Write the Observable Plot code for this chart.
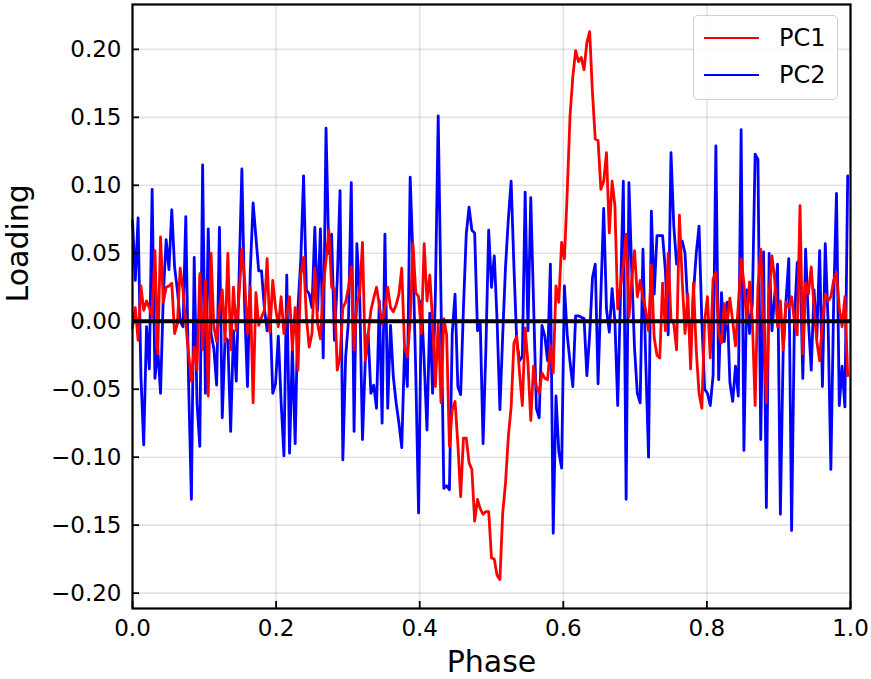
<!DOCTYPE html>
<html>
<head>
<meta charset="utf-8">
<script src="https://cdn.jsdelivr.net/npm/d3@7"></script>
<script src="https://cdn.jsdelivr.net/npm/@observablehq/plot@0.6"></script>
<style>
  html, body { margin: 0; padding: 0; background: #fff; }
  #wrap { position: relative; width: 871px; height: 679px; font-family: "DejaVu Sans", sans-serif; }
  #legend { position: absolute; left: 693px; top: 15px; width: 143px; height: 83px;
    border: 1.5px solid #cfcfcf; border-radius: 5px; background: rgba(255,255,255,0.85); }
  .sw { position: absolute; left: 10px; width: 55px; height: 2px; }
  .lt { position: absolute; left: 85px; font-size: 24px; line-height: 24px; color: #000; }
</style>
</head>
<body>
<div id="wrap"></div>
<script>
// PC1 loadings (256 phase bins)
const pc1 = [
  -0.005, 0.01, -0.014, 0.026, 0.008, 0.015, 0.01, 0.003, 0.052, -0.024, 0.062, 0.014, 0.025, 0.026, 0.028, -0.009,
  -0.002, 0.039, 0.023, -0.002, -0.024, -0.044, -0.019, -0.036, 0.035, -0.021, 0.03, -0.055, 0.05, -0.004, -0.015, 0.01,
  0.023, -0.015, 0.05, -0.021, 0.025, -0.007, 0.02, 0.053, 0.03, -0.009, 0.025, -0.06, 0.021, -0.003, 0.003, 0.008,
  0.046, -0.008, 0.03, 0.01, -0.004, 0.018, -0.009, 0.006, 0.018, -0.021, 0.01, -0.036, 0.034, 0.047, 0.003, -0.019,
  -0.009, 0.039, -0.002, -0.013, 0.025, 0.045, 0.067, 0.025, 0.024, -0.036, -0.026, 0.01, 0.014, 0.025, 0.04, -0.021,
  0.013, 0.02, 0.058, -0.029, -0.01, 0.008, 0.017, 0.025, 0.012, -0.002, 0.01, 0.025, 0.01, 0.007, 0.012, 0.02,
  0.039, -0.019, -0.026, 0.0, 0.057, 0.021, 0.018, -0.009, 0.057, 0.015, 0.034, 0.0, -0.048, 0.0, -0.06, 0.002,
  -0.01, -0.092, -0.065, -0.059, -0.09, -0.129, -0.086, -0.086, -0.104, -0.109, -0.147, -0.131, -0.138, -0.142, -0.14, -0.14,
  -0.174, -0.175, -0.187, -0.19, -0.141, -0.119, -0.085, -0.063, -0.016, -0.011, -0.038, -0.062, -0.005, -0.031, -0.073, -0.033,
  -0.048, -0.053, -0.038, -0.042, -0.043, -0.018, -0.038, 0.026, 0.014, 0.058, 0.046, 0.095, 0.151, 0.18, 0.199, 0.191,
  0.194, 0.185, 0.205, 0.213, 0.168, 0.134, 0.133, 0.097, 0.103, 0.124, 0.065, 0.103, 0.085, 0.009, 0.026, 0.041,
  0.064, 0.003, 0.03, 0.052, 0.018, 0.03, 0.017, 0.008, -0.007, 0.041, -0.012, -0.025, -0.027, 0.028, -0.007, 0.05,
  0.001, -0.002, -0.021, 0.078, 0.03, -0.009, 0.02, -0.035, 0.028, -0.021, -0.053, -0.064, 0.0, 0.018, -0.027, 0.031,
  0.036, -0.009, -0.016, 0.013, -0.002, 0.017, 0.0, -0.018, 0.012, 0.046, 0.028, 0.0, 0.029, 0.001, -0.062, 0.025,
  0.053, 0.001, -0.06, 0.02, 0.048, 0.03, -0.004, 0.015, -0.021, 0.014, 0.01, 0.018, 0.0, -0.01, 0.085, -0.024,
  0.028, 0.02, 0.04, 0.01, -0.015, -0.029, 0.0, 0.02, 0.015, 0.018, 0.03, 0.036, 0.01, -0.004, 0.018, -0.04
];
// PC2 loadings (256 phase bins)
const pc2 = [
  0.074, 0.03, 0.076, -0.04, -0.091, -0.004, -0.035, 0.097, -0.042, -0.02, -0.053, 0.02, 0.06, 0.038, 0.082, 0.04,
  0.023, 0.0, -0.004, 0.077, -0.045, -0.131, 0.047, -0.06, -0.092, 0.115, -0.053, 0.068, -0.009, -0.02, -0.047, 0.069,
  -0.071, -0.012, -0.014, -0.081, -0.007, -0.044, 0.033, 0.112, 0.01, -0.048, 0.037, 0.087, 0.062, 0.037, 0.037, 0.01,
  -0.007, 0.01, -0.053, -0.046, -0.011, -0.06, -0.099, 0.034, -0.097, -0.019, -0.09, 0.01, 0.045, 0.107, 0.023, 0.02,
  0.01, 0.069, 0.008, 0.068, -0.027, 0.142, 0.05, 0.064, -0.014, 0.03, 0.096, -0.102, -0.026, 0.0, 0.102, -0.081,
  0.057, 0.02, -0.087, -0.029, -0.009, -0.053, -0.047, -0.064, 0.015, -0.075, 0.064, -0.064, -0.003, -0.041, -0.06, -0.075,
  -0.093, -0.02, -0.048, 0.106, 0.047, -0.038, -0.141, 0.015, -0.03, -0.08, 0.006, -0.053, 0.02, 0.151, 0.015, -0.123,
  -0.121, -0.124, -0.009, 0.02, -0.048, -0.054, 0.01, 0.064, 0.084, 0.067, 0.065, -0.007, -0.002, -0.09, -0.02, 0.067,
  0.025, 0.048, 0.0, -0.065, -0.01, 0.04, 0.075, 0.103, 0.04, -0.015, -0.029, -0.026, 0.095, -0.007, 0.091, 0.013,
  -0.064, -0.071, -0.003, -0.011, -0.029, 0.042, -0.156, -0.055, -0.096, -0.108, 0.026, -0.01, -0.03, -0.048, 0.004, 0.004,
  0.003, 0.002, -0.04, -0.01, 0.032, 0.042, -0.046, 0.02, 0.083, 0.009, -0.008, 0.024, 0.0, -0.062, 0.02, 0.103,
  -0.131, 0.102, 0.037, -0.02, -0.053, -0.06, 0.053, -0.03, -0.1, 0.081, 0.02, 0.063, 0.063, 0.063, 0.037, -0.01,
  0.124, 0.07, 0.042, 0.053, 0.059, 0.05, 0.01, -0.021, 0.02, 0.05, 0.07, 0.0, -0.05, -0.053, -0.062, -0.04,
  0.129, -0.043, 0.021, -0.015, 0.014, -0.045, -0.059, -0.033, -0.055, 0.141, -0.095, 0.023, -0.009, 0.013, 0.123, 0.119,
  -0.087, 0.051, -0.137, 0.05, -0.007, 0.02, 0.042, -0.142, -0.021, 0.015, 0.046, -0.154, 0.0, 0.043, 0.045, -0.042,
  0.053, 0.0, -0.036, 0.023, -0.012, 0.052, -0.048, 0.057, 0.0, -0.109, 0.015, 0.094, -0.062, -0.033, -0.063, 0.107
];
const seriesNames = ["PC1", "PC2"];
const seriesColors = ["red", "blue"];
const xTicks = [0, 0.2, 0.4, 0.6, 0.8, 1.0];
const yTicks = [-0.20, -0.15, -0.10, -0.05, 0.00, 0.05, 0.10, 0.15, 0.20];
const xLabel = "Phase";
const yLabel = "Loading";

const N = pc1.length;
const phase = d3.range(N).map(i => i / N);
const rows1 = phase.map((p, i) => ({phase: p, value: pc1[i]}));
const rows2 = phase.map((p, i) => ({phase: p, value: pc2[i]}));

const W = 871, H = 679;
const mL = 132, mR = 21, mT = 4, mB = 71;
const innerW = W - mL - mR, innerH = H - mT - mB;
const fmtY = d3.format(".2f");

const chart = Plot.plot({
  width: W, height: H,
  marginLeft: mL, marginRight: mR, marginTop: mT, marginBottom: mB,
  x: {domain: [0, 1]},
  y: {domain: [-0.2113, 0.233]},
  style: {fontFamily: "DejaVu Sans, sans-serif", background: "white", color: "black"},
  marks: [
    Plot.gridX(xTicks, {stroke: "#000", strokeOpacity: 0.11, strokeWidth: 1.6}),
    Plot.gridY(yTicks, {stroke: "#000", strokeOpacity: 0.11, strokeWidth: 1.6}),
    Plot.line(rows2, {x: "phase", y: "value", stroke: seriesColors[1], strokeWidth: 2.8}),
    Plot.line(rows1, {x: "phase", y: "value", stroke: seriesColors[0], strokeWidth: 2.8}),
    Plot.ruleY([0], {stroke: "black", strokeWidth: 3.8}),
    Plot.tickX(xTicks, {x: d => d, stroke: "black", strokeWidth: 1.8, insetTop: innerH - 7}),
    Plot.tickY(yTicks, {y: d => d, stroke: "black", strokeWidth: 1.8, insetRight: innerW - 7}),
    Plot.frame({stroke: "black", strokeWidth: 2.2}),
    Plot.axisX(xTicks, {tickSize: 0, tickPadding: 11, fontSize: 23, tickFormat: d => d.toFixed(1), label: null}),
    Plot.axisY(yTicks, {tickSize: 0, tickPadding: 11, fontSize: 23, tickFormat: d => fmtY(d), label: null}),
    Plot.text([xLabel], {frameAnchor: "bottom", dy: 63, fontSize: 30}),
    Plot.text([yLabel], {frameAnchor: "left", dx: -114, dy: -4, rotate: -90, fontSize: 30})
  ]
});

const wrap = document.getElementById("wrap");
wrap.appendChild(chart);

const legend = document.createElement("div");
legend.id = "legend";
seriesNames.forEach((name, k) => {
  const cy = 22 + k * 37;
  const sw = document.createElement("div");
  sw.className = "sw";
  sw.style.top = (cy - 1) + "px";
  sw.style.background = seriesColors[k];
  const t = document.createElement("div");
  t.className = "lt";
  t.style.top = (cy - 12) + "px";
  t.textContent = name;
  legend.appendChild(sw);
  legend.appendChild(t);
});
wrap.appendChild(legend);
</script>
</body>
</html>
